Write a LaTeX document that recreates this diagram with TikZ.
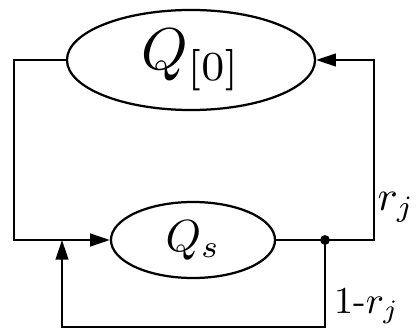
\documentclass[tikz,border=0pt]{standalone}
\usepackage{tikz}
\usetikzlibrary{arrows.meta,positioning,shapes.geometric}
\tikzset{
  queue/.style={ellipse, draw, line width=1.6pt, inner sep=0pt},
  flow/.style={line width=1.6pt},
  flowarr/.style={-{Triangle[length=14pt,width=9pt]}, line width=1.6pt},
}
\newcommand{\bigtxt}[2]{\scalebox{#1}{#2}}

\begin{document}
\begin{tikzpicture}[x=0.025cm,y=-0.025cm]
\useasboundingbox (0,0) rectangle (419,334);
% the two queues
\node[queue, minimum width=6.2cm, minimum height=2.5cm] (q0) at (191,60) {\bigtxt{4.2}{$Q_{[0]}$}};
\node[queue, minimum width=4.1cm, minimum height=1.9cm] (qs) at (193,240) {\bigtxt{3.2}{$Q_s$}};
% corners of the loops
\coordinate (tl) at (14,60);
\coordinate (bl) at (14,240);
\coordinate (split) at (325,240);
\coordinate (br) at (374,240);
\coordinate (tr) at (374,60);
\coordinate (bb) at (62,327);
\coordinate (merge) at (62,240);
% feed from Q[0] into Qs
\draw[flowarr] (q0.west) -- (tl) -- (bl) -- (qs.west);
% out of Qs and back to Q[0]
\draw[flow] (qs.east) -- (split);
\draw[flowarr] (split) -- (br) -- (tr) -- (q0.east);
% back round into Qs
\draw[flowarr] (split) |- (bb) -- (merge);
\fill (split) circle (3.5pt);
\node (rj) at (396,207) {\bigtxt{3}{$r_j$}};
\node[anchor=west, inner sep=0pt] (rjc) at (334,306) {\bigtxt{2.7}{1-$r_j$}};
\end{tikzpicture}
\end{document}
